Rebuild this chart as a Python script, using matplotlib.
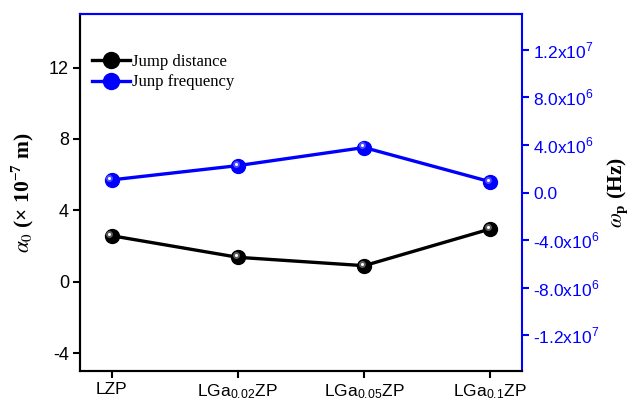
import matplotlib
matplotlib.use('Agg')
import matplotlib.pyplot as plt
import matplotlib.transforms as mtrans
from matplotlib.ticker import FixedLocator, FixedFormatter

plt.rcParams['mathtext.fontset'] = 'stix'

samples = ['LZP', 'LGa$_{\\mathdefault{0.02}}$ZP', 'LGa$_{\\mathdefault{0.05}}$ZP', 'LGa$_{\\mathdefault{0.1}}$ZP']
jump_dist = [2.58, 1.37, 0.90, 2.96]           # x 1e-7 m
jump_freq = [1.06e6, 2.26e6, 3.78e6, 0.90e6]   # Hz
left_ticks = [-4, 0, 4, 8, 12]
right_ticks = [-1.2e7, -8e6, -4e6, 0, 4e6, 8e6, 1.2e7]
right_labels = ['-1.2x10$^{\\mathdefault{7}}$', '-8.0x10$^{\\mathdefault{6}}$', '-4.0x10$^{\\mathdefault{6}}$',
                '0.0', '4.0x10$^{\\mathdefault{6}}$', '8.0x10$^{\\mathdefault{6}}$', '1.2x10$^{\\mathdefault{7}}$']

BLUE = '#0000ff'
sans = 'Liberation Sans'
serif = 'Liberation Serif'

fig = plt.figure(figsize=(6.35, 4.05), dpi=100)
ax = fig.add_axes([80/635, 34/405, 442/635, 357/405])
ax2 = ax.twinx()

x = list(range(len(samples)))

def shiny(a, y, col, hi, label):
    a.plot(x, y, '-', color=col, lw=2.4, marker='o', ms=10, mec=col, mfc=col, label=label, zorder=3)
    off = mtrans.offset_copy(a.transData, fig=fig, x=-1.5, y=1.5, units='points')
    a.plot(x, y, 'o', ms=5, mfc=hi, mec='none', alpha=0.6, transform=off, zorder=4)
    a.plot(x, y, 'o', ms=2.2, mfc='white', mec='none', transform=off, zorder=5)

shiny(ax, jump_dist, 'black', '#9a9a9a', 'Jump distance')
shiny(ax2, jump_freq, BLUE, '#8080ff', 'Junp frequency')

ax.set_xlim(-0.25, 3.25)
ax.set_ylim(-5, 15)
ax2.set_ylim(-1.5e7, 1.5e7)

ax.set_xticks(x)
ax.set_xticklabels(samples, fontfamily=sans, fontsize=12.5)
ax.yaxis.set_major_locator(FixedLocator(left_ticks))
ax.set_yticklabels([str(t) for t in left_ticks], fontfamily=sans, fontsize=13)
ax2.yaxis.set_major_locator(FixedLocator(right_ticks))
ax2.yaxis.set_major_formatter(FixedFormatter(right_labels))
for lab in ax2.get_yticklabels():
    lab.set_fontfamily(sans)
    lab.set_fontsize(12.5)
    lab.set_color(BLUE)

ax.tick_params(direction='out', length=5, width=1.5, pad=3)
ax2.tick_params(axis='y', direction='out', length=5, width=1.5, color=BLUE, labelcolor=BLUE, pad=3)

for a in (ax, ax2):
    for s in a.spines.values():
        s.set_linewidth(1.5)
ax.spines['top'].set_color(BLUE)
ax2.spines['top'].set_color(BLUE)
ax2.spines['right'].set_color(BLUE)
ax.spines['right'].set_visible(False)

ax.set_ylabel('$\\alpha_{0}$ (× 10$^{\\mathdefault{-7}}$ m)', fontfamily=serif, fontweight='bold', fontsize=15.5, labelpad=9)
ax2.set_ylabel('$\\omega_{\\mathdefault{p}}$ (Hz)', fontfamily=serif, fontweight='bold', fontsize=15.5, labelpad=4)

h1, l1 = ax.get_legend_handles_labels()
h2, l2 = ax2.get_legend_handles_labels()
leg = ax2.legend(h1 + h2, l1 + l2, loc='upper left', bbox_to_anchor=(0.0, 0.92), frameon=False,
                 prop={'family': serif, 'size': 12}, handlelength=2.3, handletextpad=0.1,
                 labelspacing=0.25, borderaxespad=0.3, markerscale=1.15)

fig.savefig('out.png', dpi=100)
